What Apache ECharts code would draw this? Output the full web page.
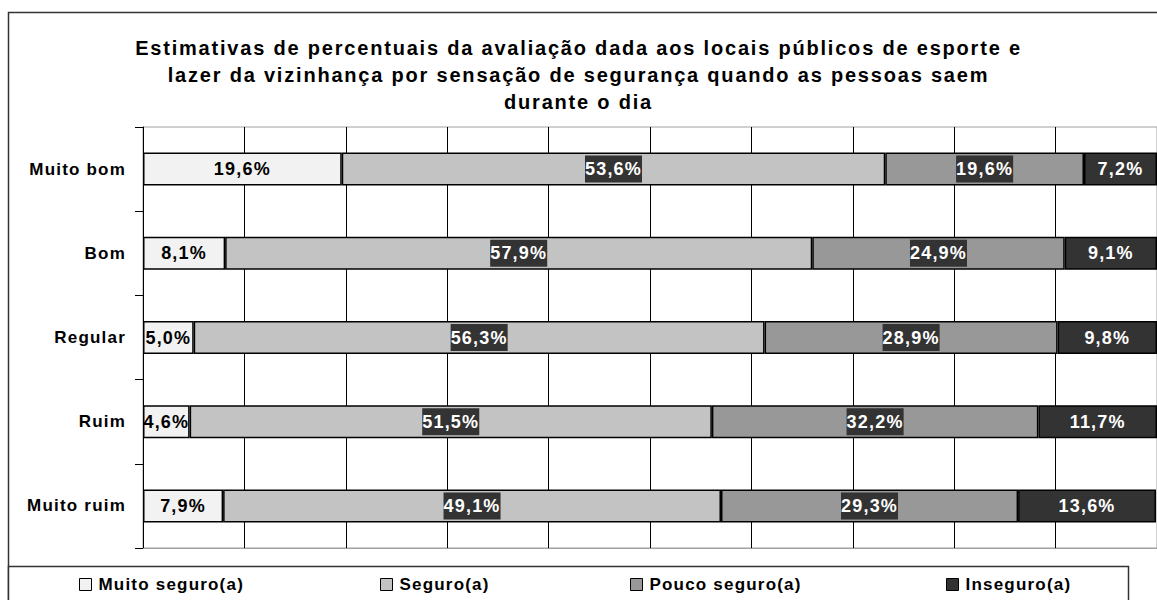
<!DOCTYPE html>
<html>
<head>
<meta charset="utf-8">
<script src="https://cdn.jsdelivr.net/npm/echarts@6/dist/echarts.min.js"></script>
<style>
  html, body { margin: 0; padding: 0; background: #fff; }
  #chart { width: 1157px; height: 600px; }
  #chart text { letter-spacing: 1.2px; }
  #chart text[style*="20px"] { letter-spacing: 1.8px; }
</style>
</head>
<body>
<div id="chart"></div>
<script>
const categories = ['Muito bom', 'Bom', 'Regular', 'Ruim', 'Muito ruim'];
const seriesNames = ['Muito seguro(a)', 'Seguro(a)', 'Pouco seguro(a)', 'Inseguro(a)'];
const muitoSeguro = [19.6, 8.1, 5.0, 4.6, 7.9];
const seguro = [53.6, 57.9, 56.3, 51.5, 49.1];
const poucoSeguro = [19.6, 24.9, 28.9, 32.2, 29.3];
const inseguro = [7.2, 9.1, 9.8, 11.7, 13.6];
const titleText = 'Estimativas de percentuais da avaliação dada aos locais públicos de esporte e\nlazer da vizinhança por sensação de segurança quando as pessoas saem\ndurante o dia';

const FONT = "'Liberation Sans', Arial, sans-serif";
const fmt = p => p.value.toFixed(1).replace('.', ',') + '%';

const chart = echarts.init(document.getElementById('chart'), null, { renderer: 'svg' });

function mkSeries(name, data, color, labelStyle) {
  return {
    name: name,
    type: 'bar',
    stack: 'total',
    data: data,
    barWidth: 33,
    itemStyle: { color: color, borderColor: '#000', borderWidth: 1.5 },
    label: Object.assign({
      show: true,
      position: 'inside',
      formatter: fmt,
      fontFamily: FONT,
      fontWeight: 'bold',
      fontSize: 18
    }, labelStyle),
    emphasis: { disabled: true }
  };
}

const legendLefts = [79, 380, 630, 946];

chart.setOption({
  animation: false,
  backgroundColor: '#fff',
  title: {
    text: titleText,
    left: 'center',
    top: 29,
    textStyle: { fontFamily: FONT, fontWeight: 'bold', fontSize: 20, color: '#000', lineHeight: 27 }
  },
  graphic: [
    { type: 'rect', shape: { x: 8.5, y: 12.5, width: 1300, height: 700 }, style: { fill: 'none', stroke: '#333', lineWidth: 1.5 }, silent: true, z: -1 },
    { type: 'rect', shape: { x: 8.5, y: 566.5, width: 1120, height: 100 }, style: { fill: '#fff', stroke: '#333', lineWidth: 1.5 }, silent: true, z: 0 }
  ],
  legend: seriesNames.map((n, i) => ({
    data: [n],
    left: legendLefts[i],
    top: 576,
    padding: 0,
    icon: 'rect',
    itemWidth: 12,
    itemHeight: 12,
    selectedMode: false,
    itemStyle: { borderColor: '#000', borderWidth: 1 },
    textStyle: { fontFamily: FONT, fontWeight: 'bold', fontSize: 17, color: '#000', padding: [0, 0, 0, 2] },
    z: 5
  })),
  grid: {
    left: 143, top: 127, width: 1018, height: 421,
    show: true, borderColor: '#a0a0a0', borderWidth: 1, containLabel: false
  },
  xAxis: {
    type: 'value',
    min: 0, max: 100, interval: 10,
    axisLabel: { show: false },
    axisTick: { show: false },
    axisLine: { show: true, lineStyle: { color: '#a0a0a0', width: 1 } },
    splitLine: { show: true, lineStyle: { color: '#000', width: 1 } }
  },
  yAxis: {
    type: 'category',
    data: categories,
    inverse: true,
    axisLine: { show: true, lineStyle: { color: '#000', width: 1 } },
    axisTick: { show: true, length: 8, lineStyle: { color: '#000' } },
    axisLabel: { fontFamily: FONT, fontWeight: 'bold', fontSize: 17, color: '#000', margin: 17 }
  },
  series: [
    mkSeries(seriesNames[0], muitoSeguro, '#f2f2f2', { color: '#000' }),
    mkSeries(seriesNames[1], seguro, '#c3c3c3', { color: '#fff', backgroundColor: '#333', padding: [5, 3, 4, 3] }),
    mkSeries(seriesNames[2], poucoSeguro, '#989898', { color: '#fff', backgroundColor: '#333', padding: [5, 3, 4, 3] }),
    mkSeries(seriesNames[3], inseguro, '#333333', { color: '#fff' })
  ]
});
</script>
</body>
</html>
